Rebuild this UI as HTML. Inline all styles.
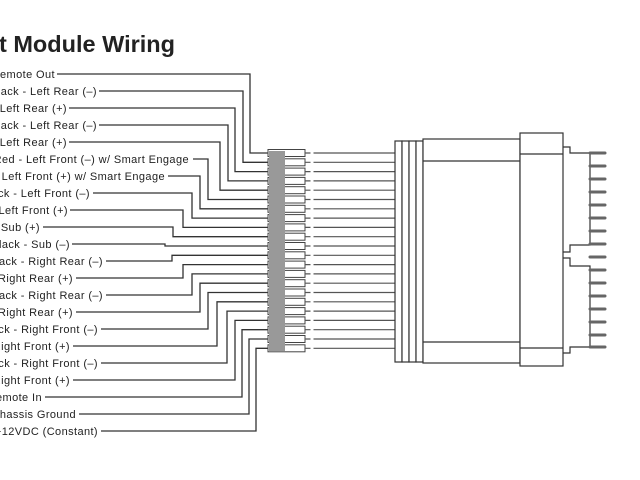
<!DOCTYPE html>
<html><head><meta charset="utf-8"><style>
html,body{margin:0;padding:0;background:#fff;width:640px;height:480px;overflow:hidden}
svg text{font-family:"Liberation Sans",sans-serif;font-size:11px;letter-spacing:0.4px;fill:#222}
</style></head><body>
<svg width="640" height="480" viewBox="0 0 640 480" xmlns="http://www.w3.org/2000/svg">
<text x="-1" y="52" style="font-size:23.5px;font-weight:bold;letter-spacing:0;fill:#222">t Module Wiring</text>
<g fill="none" stroke="#333" stroke-width="1.3">
<path d="M57,74H250V153H268"/>
<path d="M99,91H243V162.3H268"/>
<path d="M69,108H235V171.6H268"/>
<path d="M99,125H228V180.9H268"/>
<path d="M69,142H220V190.2H268"/>
<path d="M193,159H208V199.5H268"/>
<path d="M168,176H200V208.8H268"/>
<path d="M93,193H192V218.1H268"/>
<path d="M70,210H183V227.4H268"/>
<path d="M43,227H173V236.7H268"/>
<path d="M72,244H165V246H268"/>
<path d="M106,261H172V255.3H268"/>
<path d="M76,278H183V264.6H268"/>
<path d="M106,295H192V273.9H268"/>
<path d="M76,312H200V283.2H268"/>
<path d="M101,329H208V292.5H268"/>
<path d="M73,346H217V301.8H268"/>
<path d="M101,363H227V311.1H268"/>
<path d="M73,380H235V320.4H268"/>
<path d="M45,397H242V329.7H268"/>
<path d="M79,414H249V339H268"/>
<path d="M101,431H256V348.3H268"/>
</g>
<g text-anchor="end">
<text x="55" y="78">Remote Out</text>
<text x="97" y="95">Black - Left Rear (–)</text>
<text x="67" y="112">Left Rear (+)</text>
<text x="97" y="129">Black - Left Rear (–)</text>
<text x="67" y="146">Left Rear (+)</text>
<text x="189" y="163">Red - Left Front (–) w/ Smart Engage</text>
<text x="165" y="180">Left Front (+) w/ Smart Engage</text>
<text x="90" y="197">Black - Left Front (–)</text>
<text x="68" y="214">Left Front (+)</text>
<text x="40" y="231">Sub (+)</text>
<text x="70" y="248">Black - Sub (–)</text>
<text x="103" y="265">Black - Right Rear (–)</text>
<text x="73" y="282">Right Rear (+)</text>
<text x="103" y="299">Black - Right Rear (–)</text>
<text x="73" y="316">Right Rear (+)</text>
<text x="98" y="333">Black - Right Front (–)</text>
<text x="70" y="350">Right Front (+)</text>
<text x="98" y="367">Black - Right Front (–)</text>
<text x="70" y="384">Right Front (+)</text>
<text x="42" y="401">Remote In</text>
<text x="76" y="418">Chassis Ground</text>
<text x="98" y="435">+12VDC (Constant)</text>
</g>
<g stroke="#444" stroke-width="1">
<g fill="#fff">
<rect x="268" y="149.5" width="37" height="7"/><rect x="268" y="158.8" width="37" height="7"/><rect x="268" y="168.1" width="37" height="7"/><rect x="268" y="177.4" width="37" height="7"/><rect x="268" y="186.7" width="37" height="7"/><rect x="268" y="196" width="37" height="7"/><rect x="268" y="205.3" width="37" height="7"/><rect x="268" y="214.6" width="37" height="7"/><rect x="268" y="223.9" width="37" height="7"/><rect x="268" y="233.2" width="37" height="7"/><rect x="268" y="242.5" width="37" height="7"/><rect x="268" y="251.8" width="37" height="7"/><rect x="268" y="261.1" width="37" height="7"/><rect x="268" y="270.4" width="37" height="7"/><rect x="268" y="279.7" width="37" height="7"/><rect x="268" y="289" width="37" height="7"/><rect x="268" y="298.3" width="37" height="7"/><rect x="268" y="307.6" width="37" height="7"/><rect x="268" y="316.9" width="37" height="7"/><rect x="268" y="326.2" width="37" height="7"/><rect x="268" y="335.5" width="37" height="7"/><rect x="268" y="344.8" width="37" height="7"/>
</g>
<g fill="#999" stroke="none">
<rect x="269" y="151" width="16" height="200"/>
</g>
<g fill="none" stroke="#555" stroke-width="1.2">
<path d="M305,153H395M305,162.3H395M305,171.6H395M305,180.9H395M305,190.2H395M305,199.5H395M305,208.8H395M305,218.1H395M305,227.4H395M305,236.7H395M305,246H395M305,255.3H395M305,264.6H395M305,273.9H395M305,283.2H395M305,292.5H395M305,301.8H395M305,311.1H395M305,320.4H395M305,329.7H395M305,339H395M305,348.3H395"/>
<path d="M312,150V352" stroke="#fff" stroke-width="3"/>
</g>
<g fill="#fff" stroke="#333" stroke-width="1.2">
<rect x="395" y="141" width="7" height="221"/><rect x="402" y="141" width="7" height="221"/><rect x="409" y="141" width="7" height="221"/><rect x="416" y="141" width="7" height="221"/>
<rect x="423" y="139" width="97" height="224"/>
<rect x="520" y="133" width="43" height="233"/>
</g>
<path d="M423,161H520M423,342H520M520,154H563M520,348H563" fill="none" stroke="#333" stroke-width="1.2"/>
<path d="M563,147H570V153H590V245H570V252H563M563,258H570V266H590V347H570V353H563" fill="none" stroke="#333" stroke-width="1.2"/>
<g stroke="#666" stroke-width="3" stroke-linecap="round">
<path d="M590,153H605M590,166H605M590,179H605M590,192H605M590,205H605M590,218H605M590,231H605M590,244H605M590,257H605M590,270H605M590,283H605M590,296H605M590,309H605M590,322H605M590,335H605M590,347H605"/>
</g>
</g>
</svg>
</body></html>
